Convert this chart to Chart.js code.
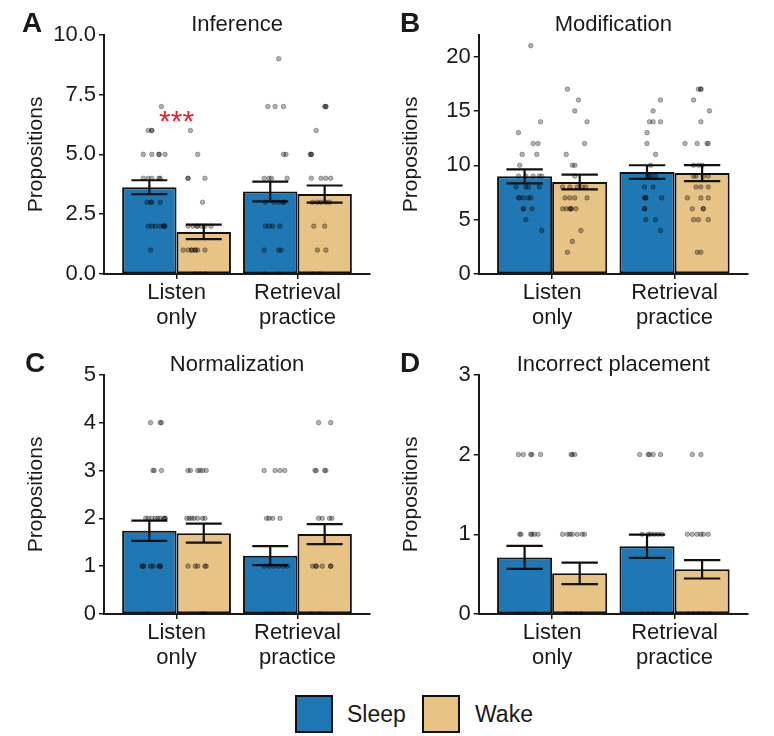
<!DOCTYPE html>
<html>
<head>
<meta charset="utf-8">
<script src="https://cdn.jsdelivr.net/npm/chart.js@4/dist/chart.umd.min.js"></script>
<style>
  body { margin: 0; background: #fff; font-family: 'Liberation Sans', Arial, sans-serif; color: #1a1a1a; }
  #wrap { position: relative; width: 774px; height: 736px; }
  canvas { position: absolute; }
  .letter { position: absolute; font-weight: bold; font-size: 28px; line-height: 28px; }
  .key { position: absolute; width: 38px; height: 38px; box-sizing: border-box; border: 2px solid #111; }
  .keytext { position: absolute; font-size: 23px; line-height: 38px; }
</style>
</head>
<body>
<div id="wrap">
  <canvas id="cA" width="387" height="340" style="left:0;top:0"></canvas>
  <canvas id="cB" width="387" height="340" style="left:387px;top:0"></canvas>
  <canvas id="cC" width="387" height="340" style="left:0;top:340px"></canvas>
  <canvas id="cD" width="387" height="340" style="left:387px;top:340px"></canvas>
  <div class="letter" style="left:22px;top:9px">A</div>
  <div class="letter" style="left:400px;top:9px">B</div>
  <div class="letter" style="left:25px;top:349px">C</div>
  <div class="letter" style="left:400px;top:349px">D</div>
  <div class="key" style="left:295px;top:695px;background:#1f77b4"></div>
  <div class="keytext" style="left:347px;top:695px">Sleep</div>
  <div class="key" style="left:422px;top:695px;background:#e8c386"></div>
  <div class="keytext" style="left:475px;top:695px">Wake</div>
</div>
<script>
const groupLabels = [['Listen', 'only'], ['Retrieval', 'practice']];

// each dot: [propositions, horizontal jitter from the bar centre, in category units]

// A - Inference
const infSleepMean = [3.63, 3.45];
const infSleepSE = [0.29, 0.41];
const infWakeMean = [1.76, 3.34];
const infWakeSE = [0.30, 0.36];
const infTicks = [0, 2.5, 5, 7.5, 10];
const infSleepListen = [[7,.10],[6,-.01],[6,.02],[6,.02],[5,-.05],[5,.02],[5,.08],[5,.08],[5,.13],[4,-.05],[4,-.01],[4,.02],[4,.08],[4,.09],
  [3,-.02],[3,.01],[3,.02],[3,.09],[2,-.01],[2,.02],[2,.05],[2,.09],[2,.12],[2,.13],[2,.12],[1,.01]];
const infWakeListen = [[6,-.11],[5,-.05],[4,-.13],[4,-.13],[4,.01],[3,-.01],[2,-.13],[2,-.09],[2,-.06],[2,-.05],[2,-.02],[2,.01],[2,.06],
  [1,-.17],[1,-.13],[1,-.10],[1,-.10],[1,-.07],[1,-.07],[1,-.05],[1,.01],[0,-.07],[0,-.03],[0,.01]];
const infSleepRetrieval = [[9,.07],[7,-.02],[7,.04],[7,.11],[5,.11],[5,.13],[4,-.05],[4,-.01],[4,.01],[4,.14],[3,-.04],[3,.03],[3,.07],[3,.11],[3,.11],
  [2,-.04],[2,-.01],[2,.02],[2,.08],[1,-.05],[1,.07],[1,.09],[0,-.05],[0,.08]];
const infWakeRetrieval = [[7,.00],[7,.01],[7,.01],[6,-.07],[5,-.12],[5,-.11],[5,-.11],[4,-.11],[4,-.03],[4,.01],[4,.05],[3,-.10],[3,-.06],[3,-.03],[3,.01],[3,.04],
  [2,-.09],[2,.00],[1,-.06],[1,.01],[0,-.10],[0,-.04]];
const infSigAt = [1, 6.5];
const infSigText = '***';

// B - Modification
const modSleepMean = [8.98, 9.37];
const modSleepSE = [0.65, 0.63];
const modWakeMean = [8.46, 9.28];
const modWakeSE = [0.68, 0.74];
const modTicks = [0, 5, 10, 15, 20];
const modSleepListen = [[21,.05],[14,.13],[13,-.05],[12,.07],[12,.11],[11,-.02],[11,.10],[10,-.04],[9,-.05],[9,.01],[9,.07],[9,.12],[9,.14],
  [8,-.07],[8,.01],[8,.03],[8,.12],[7,-.05],[7,-.04],[7,-.01],[7,.03],[7,.05],[6,-.01],[6,-.01],[6,.06],[5,.01],[4,.14]];
const modWakeListen = [[17,-.10],[16,-.01],[15,-.04],[14,.06],[12,.04],[11,-.11],[10,-.06],[10,-.04],[9,-.04],[8,-.14],[8,-.08],[8,-.02],[8,.02],[8,.05],
  [7,-.12],[7,-.08],[7,-.04],[7,.06],[6,-.14],[6,-.11],[6,-.08],[6,-.07],[6,-.07],[6,-.03],[4,.01],[3,-.06],[2,-.10]];
const modSleepRetrieval = [[16,.11],[15,.05],[14,.02],[14,.05],[14,.11],[13,.00],[12,.00],[11,.07],[10,.03],[9,.01],[9,.03],[9,.07],
  [8,-.02],[8,.05],[7,-.02],[7,-.01],[7,-.01],[7,.12],[6,-.02],[6,-.02],[5,-.01],[5,.07],[4,.11]];
const modWakeRetrieval = [[17,-.03],[17,-.01],[17,-.01],[16,-.07],[15,.06],[14,-.01],[12,-.14],[12,-.04],[12,.04],[12,.05],[10,-.07],[10,-.03],[10,.00],
  [9,-.07],[9,-.05],[9,.01],[9,.05],[8,-.05],[8,-.01],[8,.05],[7,-.12],[7,-.01],[7,.05],[6,-.08],[6,.01],[6,.01],[5,-.07],[5,-.03],[5,.05],[2,-.04],[2,-.01]];

// C - Normalization
const norSleepMean = [1.74, 1.22];
const norSleepSE = [0.21, 0.20];
const norWakeMean = [1.69, 1.67];
const norWakeSE = [0.20, 0.21];
const norTicks = [0, 1, 2, 3, 4, 5];
const norSleepListen = [[4,.01],[4,.09],[4,.10],[3,.03],[3,.04],[3,.10],[2,-.03],[2,-.01],[2,.02],[2,.05],[2,.07],[2,.09],[2,.12],[2,.13],[2,.13],
  [1,-.06],[1,-.05],[1,-.05],[1,.01],[1,.03],[1,.08],[1,.09],[1,.09],[0,-.01]];
const norWakeListen = [[3,-.13],[3,-.11],[3,-.05],[3,-.03],[3,-.01],[3,.02],[2,-.14],[2,-.12],[2,-.10],[2,-.08],[2,-.05],[2,-.01],[2,.01],
  [1,-.13],[1,-.07],[1,-.05],[1,.01],[1,.02],[0,-.02],[0,-.01],[0,.01]];
const norSleepRetrieval = [[3,-.05],[3,.04],[3,.08],[3,.12],[2,-.03],[2,-.01],[2,.02],[2,.08],[1,-.05],[1,-.01],[1,.03],[1,.07],[1,.11],[1,.14],
  [0,-.04],[0,-.01],[0,.02],[0,.07],[0,.11]];
const norWakeRetrieval = [[4,-.05],[4,.05],[3,-.08],[3,-.07],[3,.00],[3,.01],[2,-.05],[2,-.02],[2,.04],[2,.06],[1,-.10],[1,-.07],[1,-.07],[1,-.02],[1,.05],[1,.05],
  [0,-.11],[0,-.04]];

// D - Incorrect placement
const incSleepMean = [0.71, 0.85];
const incSleepSE = [0.145, 0.145];
const incWakeMean = [0.51, 0.56];
const incWakeSE = [0.135, 0.115];
const incTicks = [0, 1, 2, 3];
const incSleepListen = [[2,-.05],[2,-.01],[2,.05],[2,.06],[2,.13],[1,-.04],[1,-.03],[1,.05],[1,.06],[1,.08],[1,.11],
  [0,-.05],[0,-.01],[0,.03],[0,.07],[0,.09]];
const incWakeListen = [[2,-.07],[2,-.06],[2,-.04],[1,-.14],[1,-.10],[1,-.08],[1,-.06],[1,-.02],[1,.02],[1,.04],
  [0,-.11],[0,-.07],[0,-.03],[0,.01]];
const incSleepRetrieval = [[2,-.06],[2,.01],[2,.02],[2,.05],[2,.11],[1,-.04],[1,.01],[1,.03],[1,.06],[1,.09],[1,.12],
  [0,-.04],[0,.01],[0,.05],[0,.09]];
const incWakeRetrieval = [[2,-.08],[2,-.01],[1,-.12],[1,-.08],[1,-.04],[1,-.01],[1,.01],[1,.05],
  [0,-.11],[0,-.07],[0,-.03],[0,.01],[0,.06]];

const INK = '#1a1a1a';
const SLEEP = '#1f77b4';
const WAKE = '#e8c386';
const BAR_SHIFT = 0.225;

Chart.defaults.font.family = "'Liberation Sans', Arial, sans-serif";
Chart.defaults.color = INK;

function dotData(pairs, centre) {
  return pairs.map(p => ({ x: centre + p[1], y: p[0] }));
}

// SE whiskers on top of each bar
const errorBars = {
  id: 'errorBars',
  afterDatasetDraw(chart, args) {
    const ds = chart.data.datasets[args.index];
    if (!ds.errors) return;
    const y = chart.scales.y, ctx = chart.ctx;
    ctx.save();
    ctx.strokeStyle = '#111';
    ctx.lineWidth = 2.2;
    args.meta.data.forEach((bar, i) => {
      const m = ds.data[i].y, e = ds.errors[i];
      const hi = y.getPixelForValue(m + e), lo = y.getPixelForValue(m - e);
      const w = bar.width * 0.33;
      ctx.beginPath();
      ctx.moveTo(bar.x, hi); ctx.lineTo(bar.x, lo);
      ctx.moveTo(bar.x - w, hi); ctx.lineTo(bar.x + w, hi);
      ctx.moveTo(bar.x - w, lo); ctx.lineTo(bar.x + w, lo);
      ctx.stroke();
    });
    ctx.restore();
  }
};

const sigMarks = {
  id: 'sigMarks',
  afterDraw(chart, args, opts) {
    if (!opts.text) return;
    const ctx = chart.ctx;
    ctx.save();
    ctx.fillStyle = '#e3242b';
    ctx.font = "30px 'Liberation Sans', Arial, sans-serif";
    ctx.textAlign = 'center';
    ctx.textBaseline = 'alphabetic';
    ctx.fillText(opts.text, chart.scales.x.getPixelForValue(opts.at[0]), chart.scales.y.getPixelForValue(opts.at[1]) + 12);
    ctx.restore();
  }
};

function makePanel(id, o) {
  const axisLine = { color: INK, width: 2 };
  const tickGrid = { drawOnChartArea: false, offset: false, tickLength: 5, color: INK, lineWidth: 1.5 };
  new Chart(document.getElementById(id), {
    type: 'bar',
    plugins: [errorBars, sigMarks],
    data: {
      datasets: [
        { label: 'Sleep', data: o.sleepMean.map((m, i) => ({ x: i + 1, y: m })), errors: o.sleepSE,
          backgroundColor: SLEEP, borderColor: '#111', borderWidth: 2, borderSkipped: false, order: 2 },
        { label: 'Wake', data: o.wakeMean.map((m, i) => ({ x: i + 1, y: m })), errors: o.wakeSE,
          backgroundColor: WAKE, borderColor: '#111', borderWidth: 2, borderSkipped: false, order: 2 },
        { type: 'scatter', label: 'participants', order: 1,
          data: [].concat(
            dotData(o.dots[0], 1 - BAR_SHIFT), dotData(o.dots[1], 1 + BAR_SHIFT),
            dotData(o.dots[2], 2 - BAR_SHIFT), dotData(o.dots[3], 2 + BAR_SHIFT)),
          pointRadius: 2.3, backgroundColor: 'rgba(0,0,0,0.3)', borderColor: 'rgba(0,0,0,0.42)', borderWidth: 0.7 }
      ]
    },
    options: {
      responsive: false,
      animation: false,
      events: [],
      categoryPercentage: 0.9,
      barPercentage: 1,
      layout: { padding: { left: 0, right: o.padRight, top: 0, bottom: 0 } },
      plugins: {
        legend: { display: false },
        tooltip: { enabled: false },
        title: { display: true, text: o.title, fullSize: false, color: INK,
          font: { size: 22, weight: 'normal', lineHeight: 0.85 }, padding: { top: 15.5, bottom: 0.6 } },
        sigMarks: o.sig || {}
      },
      scales: {
        x: {
          type: 'linear', min: 0.4, max: 2.6, offset: false,
          afterBuildTicks: s => { s.ticks = [1, 2].map(v => ({ value: v })); },
          afterFit: s => { s.height = 66; },
          ticks: { callback: v => groupLabels[v - 1], font: { size: 22, lineHeight: 1.12 }, color: INK, padding: 2, maxRotation: 0, autoSkip: false },
          grid: tickGrid,
          border: axisLine
        },
        y: {
          min: 0, max: o.yMax,
          afterBuildTicks: s => { s.ticks = o.ticks.map(v => ({ value: v })); },
          afterFit: s => { s.width = o.axisX; },
          ticks: { callback: v => v.toFixed(o.decimals), font: { size: 22 }, color: INK, padding: 3 },
          grid: tickGrid,
          border: axisLine,
          title: { display: true, text: 'Propositions', color: INK, font: { size: 21 }, padding: { top: o.axisX - 69.5 - 12.6 + 2, bottom: 0 } }
        }
      }
    }
  });
}

makePanel('cA', { title: 'Inference', sleepMean: infSleepMean, sleepSE: infSleepSE, wakeMean: infWakeMean, wakeSE: infWakeSE,
  dots: [infSleepListen, infWakeListen, infSleepRetrieval, infWakeRetrieval], ticks: infTicks, yMax: 10, decimals: 1,
  axisX: 104, padRight: 17, sig: { at: infSigAt, text: infSigText } });
makePanel('cB', { title: 'Modification', sleepMean: modSleepMean, sleepSE: modSleepSE, wakeMean: modWakeMean, wakeSE: modWakeSE,
  dots: [modSleepListen, modWakeListen, modSleepRetrieval, modWakeRetrieval], ticks: modTicks, yMax: 22, decimals: 0,
  axisX: 91.7, padRight: 26 });
makePanel('cC', { title: 'Normalization', sleepMean: norSleepMean, sleepSE: norSleepSE, wakeMean: norWakeMean, wakeSE: norWakeSE,
  dots: [norSleepListen, norWakeListen, norSleepRetrieval, norWakeRetrieval], ticks: norTicks, yMax: 5, decimals: 0,
  axisX: 104, padRight: 17 });
makePanel('cD', { title: 'Incorrect placement', sleepMean: incSleepMean, sleepSE: incSleepSE, wakeMean: incWakeMean, wakeSE: incWakeSE,
  dots: [incSleepListen, incWakeListen, incSleepRetrieval, incWakeRetrieval], ticks: incTicks, yMax: 3, decimals: 0,
  axisX: 91.7, padRight: 26 });
</script>
</body>
</html>
